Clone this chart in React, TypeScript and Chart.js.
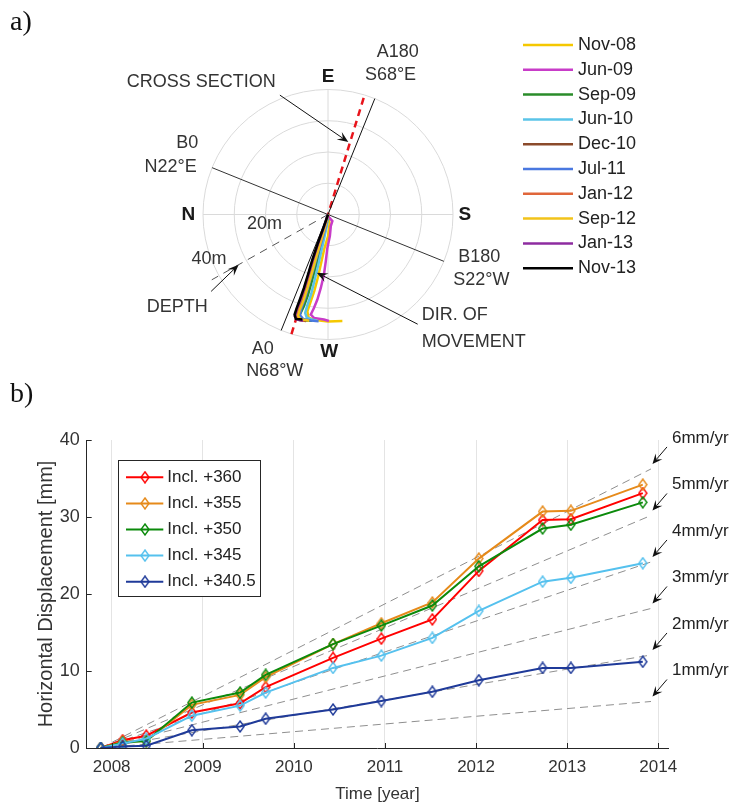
import React, { useEffect, useRef } from 'react';
import { Chart, registerables } from 'chart.js';

Chart.register(...registerables);

/* ===================== DATA : panel a (inclinometer profiles, metres) ===================== */
const profileLabels = ['Nov-08', 'Jun-09', 'Sep-09', 'Jun-10', 'Dec-10', 'Jul-11', 'Jan-12', 'Sep-12', 'Jan-13', 'Nov-13'];
const profileColors = ['#F5C800', '#C83CC8', '#2A8C2A', '#5BC4E8', '#8B4A2B', '#4A78E0', '#E0663A', '#F2C31A', '#8E2CA0', '#000000'];

const profNov08 = [[0, 0], [0.5, -3], [0, -7], [-1.2, -11], [-2.2, -15.5], [-3.2, -20], [-4.4, -24.5], [-5.6, -28], [-6.6, -31], [-6.2, -33], [-4, -33.8], [0, -34.2], [4.6, -34.1]];
const profJun09 = [[0, -0.5], [1.4, -2.1], [0.9, -3.7], [0.6, -6.9], [-0.2, -10.7], [-0.7, -14.9], [-1.3, -19.2], [-2.3, -23.5], [-3.4, -27.2], [-4.5, -29.9], [-5.5, -32], [-4.5, -33.1], [-1.3, -33.6], [0.3, -34.1]];
const profSep09 = [[0, 0], [-0.5, -3.5], [-1.6, -8], [-2.8, -12.5], [-4, -17], [-5.2, -21.5], [-6.5, -26], [-7.8, -29.5], [-9, -32], [-9.4, -33.3], [-7.5, -33.9], [-5, -34]];
const profJun10 = [[0, 0], [-0.3, -3], [-1.2, -7.5], [-2.2, -12], [-3.2, -16.5], [-4.3, -21], [-5.4, -25.5], [-6.6, -29], [-7.3, -31.5], [-6.8, -33], [-5.2, -33.6], [-3.5, -34]];
const profDec10 = [[0, 0], [-1, -4], [-2.6, -9], [-4.2, -14], [-5.6, -19], [-7, -24], [-8.4, -28], [-9.6, -31], [-10.2, -33], [-9.2, -33.8], [-7, -34.1]];
const profJul11 = [[0, 0], [-0.7, -3.8], [-2, -8.5], [-3.4, -13], [-4.7, -17.5], [-6, -22], [-7.3, -26.5], [-8.5, -30], [-9, -32.2], [-8, -33.4], [-5.5, -33.9], [-3, -34.2]];
const profJan12 = [[0, 0], [-1.2, -4.2], [-3, -9.3], [-4.6, -14.2], [-6, -19], [-7.4, -23.8], [-8.7, -27.6], [-9.8, -30.5], [-10.3, -32.5], [-9.5, -33.5], [-7.5, -34]];
const profSep12 = [[0, 0], [-0.8, -3.5], [-2.2, -8.4], [-3.7, -13.5], [-5.1, -18.5], [-6.5, -23.3], [-7.8, -27.4], [-9, -30.4], [-9.6, -32.4], [-8.8, -33.5], [-6, -34]];
const profJan13 = [[0, 0], [-1.3, -4], [-3.2, -9.4], [-4.8, -14.3], [-6.2, -19], [-7.6, -23.7], [-8.9, -27.5], [-10, -30.3], [-10.6, -32.6], [-10, -33.6], [-8, -34]];
const profNov13 = [[0, 0], [-1.5, -4.3], [-3.4, -9.6], [-5, -14.4], [-6.4, -19.2], [-7.7, -23.5], [-9, -27.2], [-10, -29.9], [-10.7, -32], [-10.3, -33.4], [-8.2, -33.6]];
const profiles = [profNov08, profJun09, profSep09, profJun10, profDec10, profJul11, profJan12, profSep12, profJan13, profNov13];

const ringDepths = [10, 20, 30, 40];
const outerDepth = 40;
const aLineAzimuth = 22;     // degrees from the vertical (A0 - A180)
const moveAzimuth = 17;      // degrees from the vertical (direction of movement)
const depthLineEnd = [-37.2, -20.9];

/* ===================== DATA : panel b (horizontal displacement) ===================== */
const surveyDates = [2007.88, 2008.12, 2008.38, 2008.88, 2009.41, 2009.69, 2010.43, 2010.96, 2011.52, 2012.03, 2012.73, 2013.04, 2013.83];
const incl360 = [0, 1.0, 1.6, 4.6, 5.8, 7.9, 11.7, 14.2, 16.7, 23.0, 29.6, 29.7, 33.1];
const incl355 = [0, 0.8, 0.9, 5.6, 6.9, 9.2, 13.5, 16.2, 18.9, 24.6, 30.7, 30.8, 34.2];
const incl350 = [0, 0.7, 0.9, 5.9, 7.2, 9.5, 13.5, 15.9, 18.5, 23.6, 28.5, 29.0, 31.9];
const incl345 = [0, 0.6, 1.2, 4.2, 5.5, 7.2, 10.4, 12.0, 14.3, 17.8, 21.6, 22.1, 24.0];
const incl3405 = [0, 0.2, 0.3, 2.3, 2.8, 3.8, 5.0, 6.1, 7.3, 8.8, 10.4, 10.4, 11.2];
const seriesNames = ['Incl. +360', 'Incl. +355', 'Incl. +350', 'Incl. +345', 'Incl. +340.5'];
const seriesValues = [incl360, incl355, incl350, incl345, incl3405];
const seriesColors = ['#FF0000', '#E68A1A', '#0B8A0B', '#55C1EE', '#1F3A99'];
const rates = [1, 2, 3, 4, 5, 6];
const rateLabels = ['1mm/yr', '2mm/yr', '3mm/yr', '4mm/yr', '5mm/yr', '6mm/yr'];
const rateStart = 2007.88;
const rateEnd = 2013.92;

/* ===================== LAYOUT ===================== */
const W = 732;
const A_H = 385;
const B_H = 806 - A_H;
const CX = 328, CY = 214.5, PXM = 3.125; // polar centre (px) and px per metre
const FAM = '"Liberation Sans", Arial, Helvetica, sans-serif';
const TXT = '#333333';

type Lbl = { t: string; x: number; y: number; a: CanvasTextAlign; bold?: boolean };
const polarLabels: Lbl[] = [
  { t: 'E', x: 0, y: 44.1, a: 'center', bold: true },
  { t: 'S', x: 43.8, y: 0, a: 'center', bold: true },
  { t: 'W', x: 0.4, y: -43.9, a: 'center', bold: true },
  { t: 'N', x: -44.7, y: 0, a: 'center', bold: true },
  { t: 'CROSS SECTION', x: -64.4, y: 42.4, a: 'left' },
  { t: 'A180', x: 15.6, y: 52.1, a: 'left' },
  { t: 'S68°E', x: 11.8, y: 44.6, a: 'left' },
  { t: 'B0', x: -41.5, y: 22.8, a: 'right' },
  { t: 'N22°E', x: -42, y: 15.3, a: 'right' },
  { t: '20m', x: -20.3, y: -2.9, a: 'center' },
  { t: '40m', x: -38.1, y: -14.3, a: 'center' },
  { t: 'B180', x: 41.7, y: -13.5, a: 'left' },
  { t: 'S22°W', x: 40.1, y: -21, a: 'left' },
  { t: 'DEPTH', x: -58, y: -29.6, a: 'left' },
  { t: 'DIR. OF', x: 30, y: -32.2, a: 'left' },
  { t: 'MOVEMENT', x: 30, y: -40.8, a: 'left' },
  { t: 'A0', x: -20.9, y: -42.9, a: 'center' },
  { t: 'N68°W', x: -26.2, y: -50.1, a: 'left' },
];
const polarArrows = [
  { from: [-15.4, 38.2], to: [6.5, 23.2] },
  { from: [28.7, -35.1], to: [-3.6, -18.6] },
  { from: [-37.4, -24.6], to: [-28.6, -16.1] },
];

function arrow(ctx: CanvasRenderingContext2D, x1: number, y1: number, x2: number, y2: number, head = 10, half = 4) {
  const ang = Math.atan2(y2 - y1, x2 - x1);
  ctx.save();
  ctx.strokeStyle = '#111';
  ctx.fillStyle = '#111';
  ctx.lineWidth = 1;
  ctx.setLineDash([]);
  ctx.beginPath();
  ctx.moveTo(x1, y1);
  ctx.lineTo(x2 - Math.cos(ang) * head * 0.6, y2 - Math.sin(ang) * head * 0.6);
  ctx.stroke();
  ctx.beginPath();
  ctx.moveTo(x2, y2);
  ctx.lineTo(x2 - Math.cos(ang) * head + Math.sin(ang) * half, y2 - Math.sin(ang) * head - Math.cos(ang) * half);
  ctx.lineTo(x2 - Math.cos(ang) * head * 0.6, y2 - Math.sin(ang) * head * 0.6);
  ctx.lineTo(x2 - Math.cos(ang) * head - Math.sin(ang) * half, y2 - Math.sin(ang) * head + Math.cos(ang) * half);
  ctx.closePath();
  ctx.fill();
  ctx.restore();
}

function makeDiamond(color: string): HTMLCanvasElement {
  const c = document.createElement('canvas');
  c.width = 10;
  c.height = 13;
  const g = c.getContext('2d')!;
  g.strokeStyle = color;
  g.lineWidth = 1.4;
  g.beginPath();
  g.moveTo(5, 1);
  g.lineTo(9, 6.5);
  g.lineTo(5, 12);
  g.lineTo(1, 6.5);
  g.closePath();
  g.stroke();
  return c;
}

export default function App() {
  const aRef = useRef<HTMLCanvasElement>(null);
  const bRef = useRef<HTMLCanvasElement>(null);

  useEffect(() => {
    /* ---------------- panel a ---------------- */
    const rad = (d: number) => (d * Math.PI) / 180;
    const aEnd = [outerDepth * Math.sin(rad(aLineAzimuth)), outerDepth * Math.cos(rad(aLineAzimuth))];
    const mEnd = [outerDepth * Math.sin(rad(moveAzimuth)), outerDepth * Math.cos(rad(moveAzimuth))];
    const bEnd = [-outerDepth * Math.cos(rad(aLineAzimuth)), outerDepth * Math.sin(rad(aLineAzimuth))];

    const helper = (pts: number[][], color: string, width: number, dash: number[]) => ({
      label: '',
      data: pts.map(([x, y]) => ({ x, y })),
      showLine: true,
      borderColor: color,
      borderWidth: width,
      borderDash: dash,
      pointRadius: 0,
      order: 50,
      isHelper: true,
    });

    const aDatasets: any[] = [
      helper([[-bEnd[0], -bEnd[1]], bEnd], '#333', 1, []),
      helper([[-aEnd[0], -aEnd[1]], aEnd], '#111', 1, []),
      helper([[-mEnd[0], -mEnd[1]], mEnd], '#E8141B', 2.5, [7, 5]),
      helper([[0, 0], depthLineEnd], '#555', 1, [8, 6]),
      ...profiles.map((p, i) => ({
        label: profileLabels[i],
        data: p.map(([x, y]) => ({ x, y })),
        showLine: true,
        borderColor: profileColors[i],
        borderWidth: 2.5,
        pointRadius: 0,
        order: 10 - i,
      })),
    ];

    const polarPlugin = {
      id: 'polarDeco',
      beforeDatasetsDraw(chart: any) {
        const { ctx } = chart;
        const xs = chart.scales.x, ys = chart.scales.y;
        const cx = xs.getPixelForValue(0), cy = ys.getPixelForValue(0);
        const r = (m: number) => xs.getPixelForValue(m) - cx;
        ctx.save();
        ctx.strokeStyle = '#dadada';
        ctx.lineWidth = 1;
        ringDepths.forEach((d) => {
          ctx.beginPath();
          ctx.arc(cx, cy, r(d), 0, Math.PI * 2);
          ctx.stroke();
        });
        ctx.beginPath();
        ctx.moveTo(cx - r(outerDepth), cy);
        ctx.lineTo(cx + r(outerDepth), cy);
        ctx.moveTo(cx, cy - r(outerDepth));
        ctx.lineTo(cx, cy + r(outerDepth));
        ctx.stroke();
        ctx.restore();
      },
      afterDatasetsDraw(chart: any) {
        const { ctx } = chart;
        const xs = chart.scales.x, ys = chart.scales.y;
        const X = (v: number) => xs.getPixelForValue(v);
        const Y = (v: number) => ys.getPixelForValue(v);
        ctx.save();
        polarArrows.forEach((a) => arrow(ctx, X(a.from[0]), Y(a.from[1]), X(a.to[0]), Y(a.to[1]), 11, 4.5));
        ctx.textBaseline = 'middle';
        polarLabels.forEach((l) => {
          ctx.font = l.bold ? `bold 19px ${FAM}` : `18px ${FAM}`;
          ctx.fillStyle = l.bold ? '#1a1a1a' : TXT;
          ctx.textAlign = l.a;
          ctx.fillText(l.t, X(l.x), Y(l.y));
        });
        // legend
        const lx0 = 523, lx1 = 573, ly0 = 45, ldy = 24.8;
        chart.data.datasets.forEach((ds: any) => {
          if (ds.isHelper) return;
          const i = profileLabels.indexOf(ds.label);
          const y = ly0 + i * ldy;
          ctx.strokeStyle = ds.borderColor;
          ctx.lineWidth = 2.5;
          ctx.beginPath();
          ctx.moveTo(lx0, y);
          ctx.lineTo(lx1, y);
          ctx.stroke();
          ctx.font = `18px ${FAM}`;
          ctx.fillStyle = '#222';
          ctx.textAlign = 'left';
          ctx.fillText(ds.label, lx1 + 5, y);
        });
        ctx.restore();
      },
    };

    const chartA = new Chart(aRef.current!, {
      type: 'scatter',
      data: { datasets: aDatasets },
      options: {
        responsive: false,
        animation: false,
        events: [],
        layout: { padding: 0 },
        plugins: { legend: { display: false }, tooltip: { enabled: false } },
        scales: {
          x: { type: 'linear', display: false, min: -CX / PXM, max: (W - CX) / PXM },
          y: { type: 'linear', display: false, min: -(A_H - CY) / PXM, max: CY / PXM },
        },
      },
      plugins: [polarPlugin],
    } as any);

    /* ---------------- panel b ---------------- */
    const diamonds = seriesColors.map((c) => makeDiamond(c));
    const bDatasets: any[] = [
      ...rates.map((r, i) => ({
        label: rateLabels[i],
        data: [
          { x: rateStart, y: 0 },
          { x: rateEnd, y: r * (rateEnd - rateStart) },
        ],
        showLine: true,
        borderColor: '#8f8f8f',
        borderWidth: 1,
        borderDash: [8, 5],
        pointRadius: 0,
        order: 30,
        isRate: true,
      })),
      ...seriesValues.map((vals, i) => ({
        label: seriesNames[i],
        data: vals.map((v, k) => ({ x: surveyDates[k], y: v })),
        showLine: true,
        borderColor: seriesColors[i],
        borderWidth: 2,
        pointStyle: diamonds[i],
        pointRadius: 5,
        order: 10 - i,
        diamond: diamonds[i],
      })),
    ];

    const bPlugin = {
      id: 'bDeco',
      afterDatasetsDraw(chart: any) {
        const { ctx, chartArea } = chart;
        const xs = chart.scales.x, ys = chart.scales.y;
        ctx.save();
        // inward tick marks
        ctx.strokeStyle = '#262626';
        ctx.lineWidth = 1;
        ctx.beginPath();
        ys.ticks.forEach((t: any) => {
          const y = Math.round(ys.getPixelForValue(t.value)) + 0.5;
          ctx.moveTo(chartArea.left, y);
          ctx.lineTo(chartArea.left + 5, y);
        });
        xs.ticks.forEach((t: any) => {
          const x = Math.round(xs.getPixelForValue(t.value)) + 0.5;
          ctx.moveTo(x, chartArea.bottom);
          ctx.lineTo(x, chartArea.bottom - 5);
        });
        ctx.stroke();
        // rate labels + arrows
        chart.data.datasets.forEach((ds: any) => {
          if (!ds.isRate) return;
          const end = ds.data[ds.data.length - 1];
          const ex = xs.getPixelForValue(end.x), ey = ys.getPixelForValue(end.y);
          arrow(ctx, ex + 16, ey - 22, ex + 1.5, ey - 5, 10, 4.5);
          ctx.font = `17px ${FAM}`;
          ctx.fillStyle = '#222';
          ctx.textAlign = 'left';
          ctx.textBaseline = 'middle';
          ctx.fillText(ds.label, ex + 21, ey - 31);
        });
        // legend box
        const bx = chartArea.left + 31.6, by = chartArea.top + 20, bw = 142, bh = 136;
        ctx.fillStyle = '#fff';
        ctx.fillRect(bx, by, bw, bh);
        ctx.strokeStyle = '#262626';
        ctx.lineWidth = 1;
        ctx.strokeRect(Math.round(bx) + 0.5, Math.round(by) + 0.5, bw, bh);
        let row = 0;
        chart.data.datasets.forEach((ds: any) => {
          if (ds.isRate) return;
          const y = by + 17.3 + row * 26.1;
          ctx.strokeStyle = ds.borderColor;
          ctx.lineWidth = 2;
          ctx.beginPath();
          ctx.moveTo(bx + 7.7, y);
          ctx.lineTo(bx + 45, y);
          ctx.stroke();
          const d = ds.diamond as HTMLCanvasElement;
          ctx.drawImage(d, bx + 26.7 - d.width / 2, y - d.height / 2);
          ctx.font = `17px ${FAM}`;
          ctx.fillStyle = '#222';
          ctx.textAlign = 'left';
          ctx.textBaseline = 'middle';
          ctx.fillText(ds.label, bx + 49, y);
          row++;
        });
        ctx.restore();
      },
    };

    const tickFont = { family: FAM, size: 17 };
    const chartB = new Chart(bRef.current!, {
      type: 'scatter',
      data: { datasets: bDatasets },
      options: {
        responsive: false,
        animation: false,
        events: [],
        layout: { padding: { left: 0, right: 63.7, top: 55, bottom: 0 } },
        plugins: { legend: { display: false }, tooltip: { enabled: false } },
        scales: {
          x: {
            type: 'linear',
            min: 2007.726,
            max: 2014.11,
            grid: { color: '#e4e4e4', drawTicks: false, lineWidth: 1 },
            border: { display: true, color: '#262626', width: 1 },
            ticks: {
              stepSize: 1,
              includeBounds: false,
              padding: 9,
              color: TXT,
              font: tickFont,
              maxRotation: 0,
              autoSkip: false,
              callback: (v: any) => String(Math.round(Number(v))),
            },
            title: { display: true, text: 'Time [year]', color: TXT, font: tickFont, padding: { top: 0, bottom: 1 } },
            afterFit: (s: any) => {
              s.height = 58;
            },
          },
          y: {
            type: 'linear',
            min: 0,
            max: 40,
            grid: { display: false, drawTicks: false },
            border: { display: true, color: '#262626', width: 1 },
            ticks: { stepSize: 10, padding: 7, color: TXT, font: { family: FAM, size: 18 } },
            title: {
              display: true,
              text: 'Horizontal Displacement [mm]',
              color: TXT,
              font: { family: FAM, size: 20 },
              padding: { top: 34, bottom: 0 },
            },
            afterFit: (s: any) => {
              s.width = 86.7;
            },
          },
        },
      },
      plugins: [bPlugin],
    } as any);

    return () => {
      chartA.destroy();
      chartB.destroy();
    };
  }, []);

  const tag: React.CSSProperties = {
    position: 'absolute',
    left: 10,
    font: '28px "Liberation Serif", "Times New Roman", serif',
    color: '#111',
    lineHeight: '30px',
  };

  return (
    <div style={{ position: 'fixed', left: 0, top: 0, width: W, height: 806, background: '#fff', overflow: 'hidden' }}>
      <canvas ref={aRef} width={W} height={A_H} style={{ position: 'absolute', left: 0, top: 0, width: W, height: A_H }} />
      <canvas ref={bRef} width={W} height={B_H} style={{ position: 'absolute', left: 0, top: A_H, width: W, height: B_H }} />
      <div style={{ ...tag, top: 6 }}>a)</div>
      <div style={{ ...tag, top: 378 }}>b)</div>
    </div>
  );
}
